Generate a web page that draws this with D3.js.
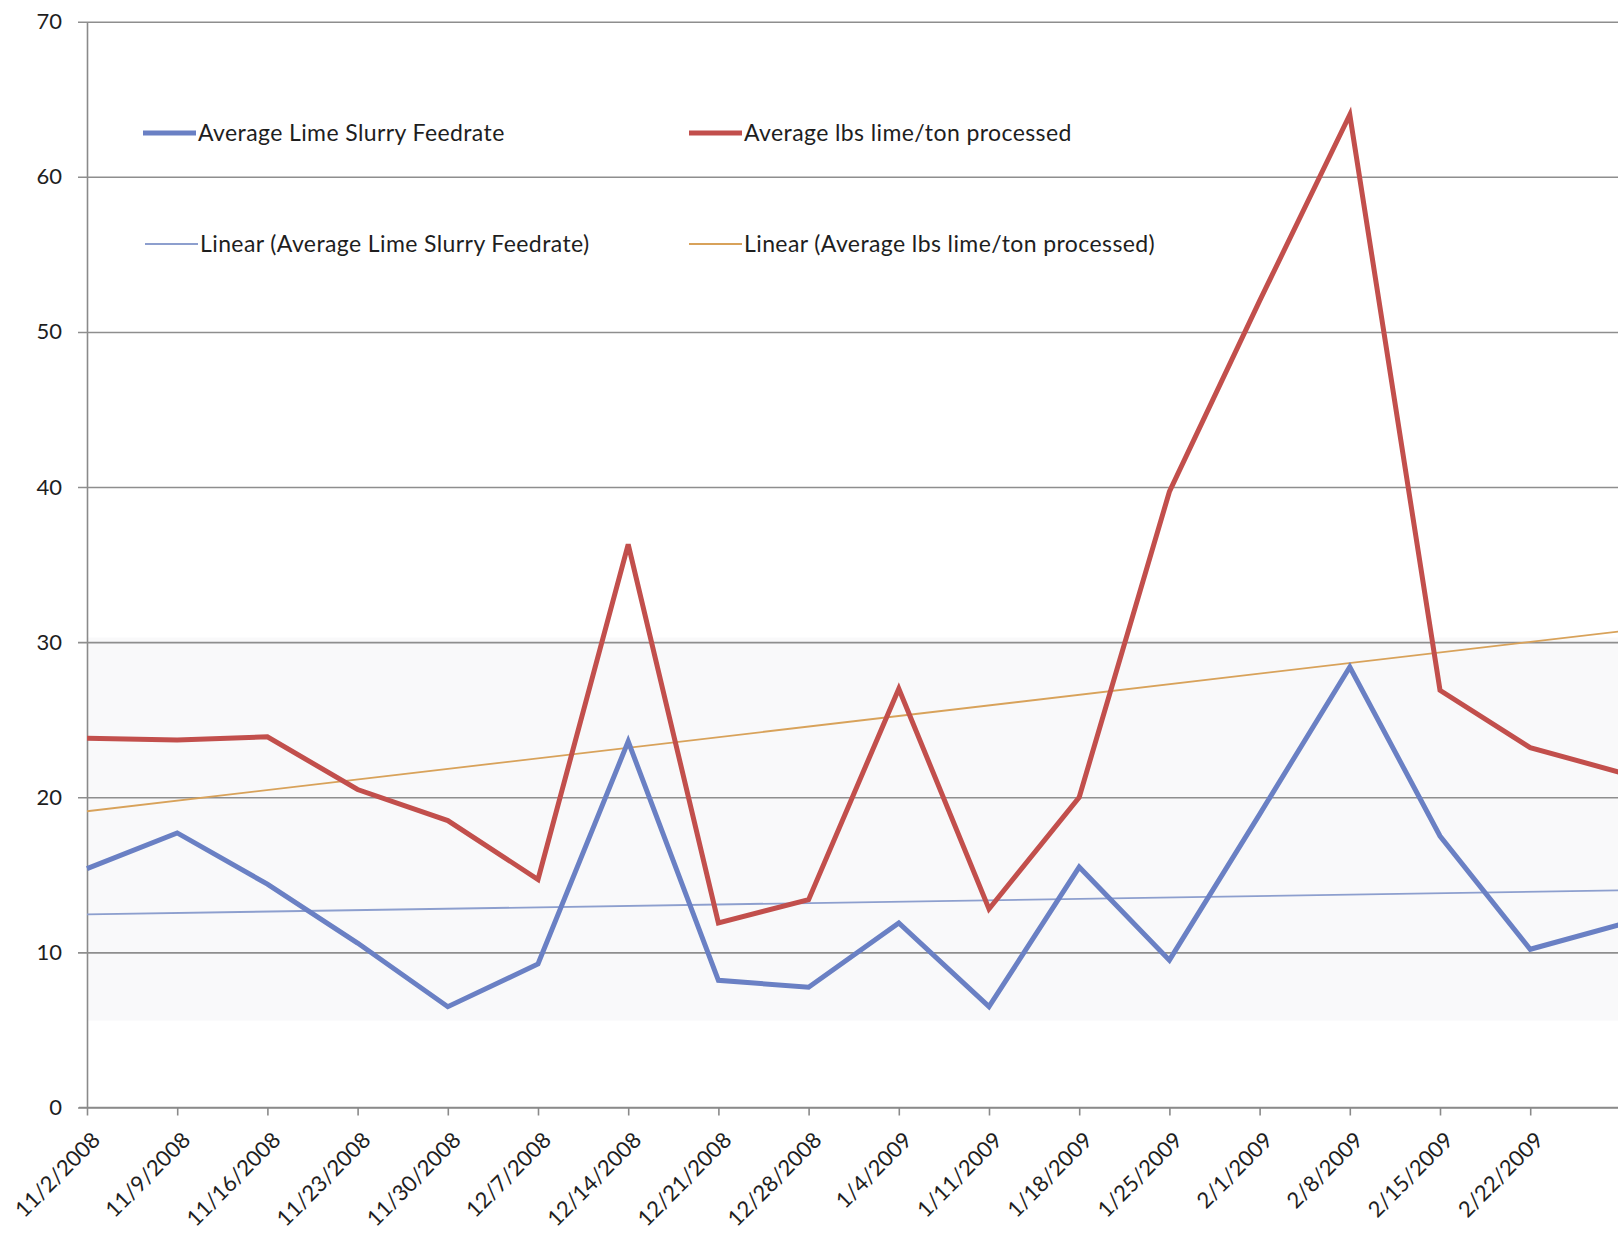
<!DOCTYPE html>
<html>
<head>
<meta charset="utf-8">
<script src="https://cdnjs.cloudflare.com/ajax/libs/d3/7.8.5/d3.min.js"></script>
<style>
  html, body { margin: 0; padding: 0; background: #ffffff; }
  svg { display: block; }
  text { font-family: Lato, "Open Sans", sans-serif; fill: #1e1e1e; }
</style>
</head>
<body>
<svg id="chart" width="1618" height="1245"></svg>
<script>
// ---- data ----
const categories = ["11/2/2008","11/9/2008","11/16/2008","11/23/2008","11/30/2008","12/7/2008",
  "12/14/2008","12/21/2008","12/28/2008","1/4/2009","1/11/2009","1/18/2009","1/25/2009",
  "2/1/2009","2/8/2009","2/15/2009","2/22/2009","3/1/2009"];
const tickLabels = ["11/2/2008","11/9/2008","11/16/2008","11/23/2008","11/30/2008","12/7/2008",
  "12/14/2008","12/21/2008","12/28/2008","1/4/2009","1/11/2009","1/18/2009","1/25/2009",
  "2/1/2009","2/8/2009","2/15/2009","2/22/2009"];
const feedrate = [15.4, 17.7, 14.4, 10.6, 6.5, 9.25, 23.6, 8.2, 7.75, 11.9, 6.5, 15.5, 9.5, 18.9, 28.4, 17.5, 10.2, 11.8];
const lbsPerTon = [23.8, 23.7, 23.9, 20.5, 18.5, 14.7, 36.3, 11.9, 13.4, 27.0, 12.8, 20.0, 39.7, 52.0, 64.0, 26.9, 23.2, 21.6];
// linear trendline values at the first and last category
const trendCategories = ["11/2/2008", "3/1/2009"];
const trendFeedrate = [12.45, 14.0];
const trendLbs = [19.1, 30.7];
const yTicks = [0, 10, 20, 30, 40, 50, 60, 70];
const seriesNames = ["Average Lime Slurry Feedrate", "Average lbs lime/ton processed",
  "Linear (Average Lime Slurry Feedrate)", "Linear (Average lbs lime/ton processed)"];

// ---- layout ----
const svg = d3.select("#chart");
const plotLeft = 87, plotRight = 1620.4, plotTop = 21.7, plotBottom = 1107.5, pageW = 1618;
const x = d3.scalePoint().domain(categories).range([plotLeft, plotRight]);
const y = d3.scaleLinear().domain([0, 70]).range([plotBottom, plotTop]);

const colBlue = "#6a80c4", colRed = "#c24f4c", colBlueTrend = "#8d9fce", colOrange = "#d8a25a";

// faint plot background (scan tint)
svg.append("rect")
  .attr("x", plotLeft).attr("y", y(30.3))
  .attr("width", pageW - plotLeft).attr("height", y(5.6) - y(30.3))
  .attr("fill", "#f9f9fa");

// gridlines + y axis
const yAxis = d3.axisLeft(y).tickValues(yTicks).tickSize(-(pageW - plotLeft)).tickSizeOuter(0).tickPadding(20);
const gy = svg.append("g").attr("transform", `translate(${plotLeft},0)`).call(yAxis);
gy.select(".domain").attr("stroke", "#8a8a8a").attr("stroke-width", 1.6);
gy.selectAll(".tick line").attr("stroke", "#8e8e8e").attr("stroke-width", 1.6).attr("x1", -9);
gy.selectAll(".tick text").attr("font-size", 22).attr("fill", "#1e1e1e")
  .attr("font-family", "Lato, 'Open Sans', sans-serif").attr("x", -25);

// x axis
const xAxis = d3.axisBottom(x).tickValues(categories).tickSize(8).tickSizeOuter(0)
  .tickFormat(d => tickLabels.includes(d) ? d : "");
const gx = svg.append("g").attr("transform", `translate(0,${plotBottom})`).call(xAxis);
gx.select(".domain").attr("stroke", "#8a8a8a").attr("stroke-width", 1.6).attr("d", `M${plotLeft - 8},0H${pageW}`);
gx.selectAll(".tick line").attr("stroke", "#8a8a8a").attr("stroke-width", 1.6);
gx.selectAll(".tick text")
  .attr("font-size", 22).attr("fill", "#1e1e1e")
  .attr("font-family", "Lato, 'Open Sans', sans-serif")
  .attr("text-anchor", "end")
  .attr("dy", 0)
  .attr("transform", "translate(14,34) rotate(-45)")
  .attr("x", 0).attr("y", 0);

// lines
const line = d3.line().x(d => x(d[0])).y(d => y(d[1]));
function draw(cats, vals, color, width) {
  svg.append("path")
    .datum(cats.map((c, i) => [c, vals[i]]))
    .attr("d", line)
    .attr("fill", "none")
    .attr("stroke", color)
    .attr("stroke-width", width)
    .attr("stroke-linejoin", "miter");
}
draw(trendCategories, trendFeedrate, colBlueTrend, 1.8);
draw(trendCategories, trendLbs, colOrange, 1.8);
draw(categories, feedrate, colBlue, 5);
draw(categories, lbsPerTon, colRed, 5);

// legend
const legendItems = [
  { name: seriesNames[0], color: colBlue, w: 5, lx: 143, ly: 133 },
  { name: seriesNames[1], color: colRed, w: 5, lx: 689, ly: 133 },
  { name: seriesNames[2], color: colBlueTrend, w: 1.8, lx: 145, ly: 244 },
  { name: seriesNames[3], color: colOrange, w: 1.8, lx: 689, ly: 244 }
];
const lg = svg.append("g");
legendItems.forEach(it => {
  lg.append("line").attr("x1", it.lx).attr("x2", it.lx + 53)
    .attr("y1", it.ly).attr("y2", it.ly)
    .attr("stroke", it.color).attr("stroke-width", it.w);
  lg.append("text").attr("x", it.lx + 55).attr("y", it.ly + 8)
    .attr("font-size", 23).attr("letter-spacing", 0.4).text(it.name);
});
</script>
</body>
</html>
